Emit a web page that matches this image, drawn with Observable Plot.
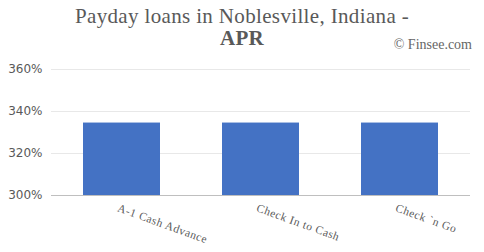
<!DOCTYPE html>
<html>
<head>
<meta charset="utf-8">
<script src="https://cdn.jsdelivr.net/npm/d3@7"></script>
<script src="https://cdn.jsdelivr.net/npm/@observablehq/plot@0.6"></script>
<style>
  body { margin: 0; background: #fff; }
  #wrap { position: relative; width: 484px; height: 252px; overflow: hidden; font-family: "Liberation Serif", serif; color: #595959; }
  #t1 { position: absolute; left: 0; width: 484px; top: 5px; text-align: center; font-size: 21px; letter-spacing: 0.35px; line-height: 22px; }
  #t2 { position: absolute; left: 0; width: 484px; top: 27px; text-align: center; font-size: 21px; letter-spacing: 0.35px; line-height: 22px; font-weight: bold; }
  #cr { position: absolute; right: 12px; top: 37px; font-size: 14px; color: #666; }
  #chart { position: absolute; left: 0; top: 0; }
  #chart svg g[aria-label="x-axis tick label"] text { letter-spacing: 0.5px; }
</style>
</head>
<body>
<div id="wrap">
  <div id="chart"></div>
  <div id="t1">Payday loans in Noblesville, Indiana -</div>
  <div id="t2">APR</div>
  <div id="cr">© Finsee.com</div>
</div>
<script>
const lenders = ["A-1 Cash Advance", "Check In to Cash", "Check `n Go"];
const aprValues = [334.5, 334.5, 334.5];
const yTicks = [300, 320, 340, 360];

const data = lenders.map((name, i) => ({name, apr: aprValues[i]}));

const chart = Plot.plot({
  width: 484,
  height: 252,
  marginTop: 69,
  marginBottom: 57,
  marginLeft: 51,
  marginRight: 14,
  style: {background: "transparent", color: "#595959"},
  x: {domain: lenders, paddingInner: 0.443, paddingOuter: 0.221, label: null},
  y: {domain: [300, 360], label: null},
  marks: [
    Plot.gridY(yTicks.slice(1), {stroke: "#d9d9d9", strokeOpacity: 0.6}),
    Plot.barY(data, {x: "name", y1: 300, y2: "apr", fill: "#4472c4"}),
    Plot.ruleY([300], {stroke: "#bfbfbf", strokeWidth: 1}),
    Plot.axisY(yTicks, {tickSize: 0, tickPadding: 9, tickFormat: d => d + "%", fontSize: 12, fontFamily: "DejaVu Sans", fill: "#595959", label: null}),
    Plot.axisX({tickSize: 0, tickPadding: 0, tickRotate: 20, textAnchor: "start", fontSize: 11.5, fontFamily: "Liberation Serif", fill: "#595959", dx: -4, dy: 12, label: null})
  ]
});
document.getElementById("chart").appendChild(chart);
</script>
</body>
</html>
